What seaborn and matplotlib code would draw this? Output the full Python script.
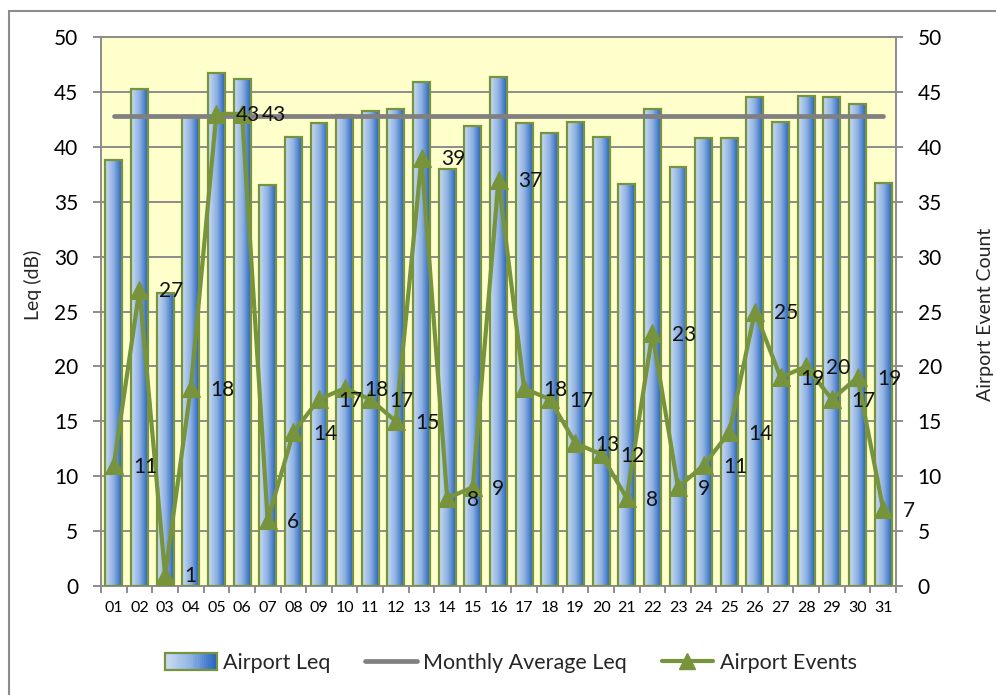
import numpy as np
import pandas as pd
import matplotlib
matplotlib.use("Agg")
import matplotlib.pyplot as plt
import seaborn as sns
from matplotlib.patches import Rectangle, Patch
from matplotlib.lines import Line2D
from matplotlib.legend_handler import HandlerBase
from matplotlib.colors import LinearSegmentedColormap

# ---------------- data ----------------
days = [f"{i:02d}" for i in range(1, 32)]
airport_leq = [38.8, 45.3, 26.7, 42.8, 46.7, 46.2, 36.5, 40.9, 42.2, 42.9,
               43.3, 43.4, 45.9, 38.0, 41.9, 46.4, 42.2, 41.3, 42.3, 40.9,
               36.6, 43.4, 38.2, 40.8, 40.8, 44.5, 42.3, 44.6, 44.5, 43.9, 36.7]
airport_events = [11, 27, 1, 18, 43, 43, 6, 14, 17, 18, 17, 15, 39, 8, 9, 37,
                  18, 17, 13, 12, 8, 23, 9, 11, 14, 25, 19, 20, 17, 19, 7]
monthly_avg_leq = 42.8
y_ticks = [0, 5, 10, 15, 20, 25, 30, 35, 40, 45, 50]

# ---------------- style ----------------
sns.set_theme(style="white")
plt.rcParams["font.family"] = ["Lato", "DejaVu Sans"]

OLIVE = "#77933c"
GRAY = "#808080"
GRID = "#8c8c8c"
cmap = LinearSegmentedColormap.from_list("bar", ["#cadcf2", "#8fb2e2", "#2562c0"])

W, H = 996, 695
fig = plt.figure(figsize=(W / 100, H / 100), dpi=100)
ax = fig.add_axes([101 / W, 1 - 586 / H, (896 - 101) / W, (586 - 37) / H])

df = pd.DataFrame({"day": days, "leq": airport_leq, "events": airport_events,
                   "avg": [monthly_avg_leq] * len(days)})
df["pos"] = np.arange(len(days))

sns.barplot(data=df, x="day", y="leq", ax=ax, width=0.66, color="#6a9ad8",
            edgecolor=OLIVE, linewidth=1.6, zorder=2)

# gradient fill of bars
grad = np.linspace(0, 1, 256).reshape(1, -1)
for p in list(ax.patches):
    x0, y0, w, h = p.get_x(), p.get_y(), p.get_width(), p.get_height()
    im = ax.imshow(grad, extent=[x0, x0 + w, y0, y0 + h], cmap=cmap,
                   aspect="auto", origin="lower", interpolation="bilinear", zorder=2)
    im.set_clip_path(p)
    p.set_facecolor("none")
    p.set_zorder(3)

sns.lineplot(data=df, x="pos", y="avg", ax=ax, color=GRAY, linewidth=3.4,
             zorder=4, legend=False)

ax.set_facecolor("#FFFFCC")
ax.set_xlim(-0.5, len(days) - 0.5)
ax.set_ylim(0, 50)
ax.set_yticks(y_ticks)
ax.set_xticks(np.arange(len(days)))
ax.set_xticklabels(days)
ax.set_xticks(np.arange(len(days) + 1) - 0.5, minor=True)
ax.grid(axis="y", color=GRID, linewidth=1.4)
ax.grid(axis="x", visible=False)
ax.set_axisbelow(True)
ax.set_xlabel("")
ax.set_ylabel("")
for s in ["left", "bottom", "right", "top"]:
    ax.spines[s].set_color(GRID)
    ax.spines[s].set_linewidth(1.4)
ax.tick_params(axis="y", which="major", left=True, length=5.8, width=1.4,
               color=GRID, pad=10.5, labelsize=15, labelcolor="black")
ax.tick_params(axis="x", which="major", bottom=True, length=0, pad=11,
               labelsize=11.5, labelcolor="black")
ax.tick_params(axis="x", which="minor", bottom=True, length=5, width=1.4, color=GRID)

# secondary axis: events
ax2 = ax.twinx()
sns.lineplot(data=df, x="pos", y="events", ax=ax2, color=OLIVE, linewidth=3,
             marker="^", markersize=13, markeredgecolor=OLIVE, zorder=5, legend=False)
ax2.set_ylim(0, 50)
ax2.set_yticks(y_ticks)
ax2.set_ylabel("")
ax2.set_xlabel("")
ax2.grid(False)
for s in ax2.spines.values():
    s.set_visible(False)
ax2.tick_params(axis="y", right=True, length=5, width=1.4, color=GRID, pad=10.5,
                labelsize=15, labelcolor="black")
for x, v in zip(df["pos"], df["events"]):
    ax2.annotate(str(v), (x, v), xytext=(14, -1), textcoords="offset points",
                 ha="left", va="center", fontsize=15, color="#111111", zorder=6)

# axis titles
fig.text(33 / W, 1 - 285 / H, "Leq (dB)", rotation=90, ha="center", va="center",
         fontsize=14)
fig.text(985 / W, 1 - 314 / H, "Airport Event Count", rotation=90, ha="center",
         va="center", fontsize=14)

# chart frame
fig.add_artist(Rectangle((9.3 / W, -0.1), 1.2, 1 - 10.5 / H + 0.1,
                         transform=fig.transFigure, fill=False,
                         edgecolor=GRID, linewidth=1.5))


class GradHandler(HandlerBase):
    def create_artists(self, legend, orig, xdescent, ydescent, width, height,
                       fontsize, trans):
        arts = []
        n = 24
        for k in range(n):
            arts.append(Rectangle((-xdescent + width * k / n, -ydescent), width / n + 0.3,
                                  height, facecolor=cmap(k / (n - 1)), edgecolor="none",
                                  transform=trans))
        arts.append(Rectangle((-xdescent, -ydescent), width, height, fill=False,
                              edgecolor=OLIVE, linewidth=1.6, transform=trans))
        return arts


handles = [Patch(),
           Line2D([], [], color=GRAY, linewidth=3.4),
           Line2D([], [], color=OLIVE, linewidth=3, marker="^", markersize=11)]
labels = ["Airport Leq", "Monthly Average Leq", "Airport Events"]
fig.legend(handles, labels, handler_map={Patch: GradHandler()}, loc="center",
           bbox_to_anchor=(511 / W, 1 - 663 / H), ncol=3, frameon=False,
           fontsize=15.5, handlelength=2.4, handleheight=0.85, columnspacing=1.6,
           handletextpad=0.3)

fig.savefig("out.png", dpi=100)
